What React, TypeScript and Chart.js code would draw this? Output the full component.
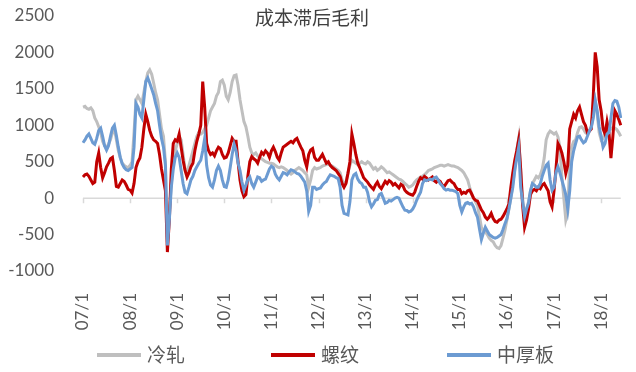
import React, { useEffect, useRef } from "react";
import { Chart, registerables } from "chart.js";

Chart.register(...registerables);

const title = "成本滞后毛利";
const seriesNames = ["冷轧", "螺纹", "中厚板"];
const seriesColors = ["#bfbfbf", "#c00000", "#6c9bd2"];
const yearLabels = ["07/1", "08/1", "09/1", "10/1", "11/1", "12/1", "13/1", "14/1", "15/1", "16/1", "17/1", "18/1"];
const pointsPerYear = 24;

// 冷轧 (semi-monthly, 2007/1 .. 2018/6)
const coldRolled = [
  1250, 1260, 1230, 1220, 1240, 1200, 1100, 1050, 980, 900, 780, 720, 700, 740, 800, 900, 950, 800, 650, 550, 480, 450, 430, 420,
  450, 500, 900, 1350, 1400, 1350, 1300, 1450, 1600, 1720, 1760, 1700, 1580, 1450, 1350, 1150, 950, 850, 500, -600, -200, 200, 500, 650,
  750, 850, 800, 600, 400, 350, 450, 550, 650, 750, 850, 900, 880, 900, 950, 1000, 1100, 1200, 1250, 1300, 1400, 1450, 1600, 1620,
  1550, 1400, 1350, 1450, 1600, 1680, 1690, 1550, 1350, 1200, 1050, 980, 850, 700, 620, 600, 620, 580, 560, 540, 520, 500, 490, 480,
  480, 470, 450, 430, 420, 430, 420, 400, 380, 350, 330, 350, 380, 400, 420, 400, 380, 350, 320, 150, 250, 380, 420, 400,
  410, 420, 440, 450, 460, 470, 450, 440, 420, 400, 380, 350, 250, 200, 220, 350, 450, 520, 500, 480, 460, 480, 500, 480,
  470, 500, 480, 440, 400, 420, 380, 400, 430, 410, 380, 350, 360, 340, 320, 300, 280, 260, 250, 230, 200, 180, 150, 160,
  180, 220, 250, 270, 290, 300, 320, 350, 380, 390, 400, 420, 430, 440, 450, 450, 440, 450, 460, 450, 440, 440, 430, 420,
  400, 380, 350, 300, 250, 150, 60, 0, -50, -100, -250, -400, -450, -460, -500, -550, -580, -600, -650, -680, -690, -650, -550, -440,
  -300, -150, 0, 200, 400, 650, 820, 400, 0, -250, -150, -50, 100, 200, 250, 300, 280, 320, 400, 550, 800, 880, 920, 900,
  880, 900, 840, 700, 300, 0, -300, -200, 550, 700, 780, 800, 900, 970, 980, 950, 900, 880, 920, 1000, 1200, 1340, 1150, 900,
  800, 820, 900, 970, 980, 950, 970, 960, 940, 900, 850,
];

// 螺纹
const rebar = [
  290, 320, 330, 300, 250, 200, 220, 500, 620, 420, 280, 350, 430, 480, 540, 560, 380, 160, 150, 200, 250, 230, 180, 120,
  110, 70, 200, 420, 500, 550, 700, 950, 1150, 1050, 930, 850, 800, 780, 750, 600, 400, 250, 100, -740, -300, 400, 750, 800,
  780, 880, 700, 520, 380, 290, 350, 430, 480, 650, 780, 880, 1000, 1600, 1250, 750, 650, 600, 620, 580, 650, 700, 680, 600,
  550, 560, 620, 720, 820, 780, 780, 500, 250, 100, 20, 50, 300, 500, 570, 540, 520, 480, 560, 630, 600, 650, 620, 560,
  650, 700, 640, 560, 520, 620, 700, 720, 740, 760, 780, 760, 800, 820, 760, 700, 650, 520, 430, 600, 660, 680, 560, 520,
  520, 560, 600, 540, 480, 500, 450, 420, 400, 380, 340, 300, 200, 150, 200, 340, 500, 880, 750, 600, 480, 420, 350, 280,
  250, 220, 180, 150, 120, 180, 220, 160, 130, 180, 230, 200, 240, 220, 180, 200, 170, 140, 190, 170, 110, 80, 60, 50,
  40, 80, 160, 230, 280, 260, 300, 280, 250, 270, 290, 240, 220, 250, 230, 180, 160, 200, 240, 250, 220, 200, 150, 120,
  120, 60, 80, 65, 100, 110, 60, 0, -30, -40, -100, -160, -200, -260, -290, -260, -210, -280, -320, -330, -300, -290, -250, -200,
  -150, -80, 150, 350, 520, 650, 800, 400, -100, -400, -300, -150, 50, 100, 120, 100, 150, 130, 180, 200, 150, 100, -50, -120,
  100, 400, 750, 700, 620, 500, 340, 450, 950, 1050, 1150, 1100, 1200, 1250, 1150, 1050, 1000, 900, 920, 950, 1400, 2000, 1800, 1350,
  1200, 950, 880, 1050, 900, 550, 850, 1200, 1150, 1080, 1000,
];

// 中厚板
const plate = [
  760, 800, 850, 880, 820, 760, 740, 820, 930, 960, 850, 720, 660, 720, 850, 960, 1000, 860, 700, 560, 470, 420, 390, 380,
  400, 420, 700, 1300, 1250, 1150, 1100, 1350, 1600, 1650, 1580, 1500, 1420, 1300, 1200, 1000, 820, 700, 450, -650, -300, 150, 400, 560,
  620, 560, 380, 200, 80, 60, 150, 250, 300, 380, 430, 480, 520, 650, 820, 450, 280, 180, 150, 250, 380, 440, 380, 250,
  160, 150, 250, 420, 600, 740, 650, 480, 380, 220, 110, 180, 260, 290, 200, 150, 220, 290, 280, 230, 250, 260, 330, 400,
  440, 420, 330, 280, 250, 300, 350, 340, 320, 360, 390, 380, 360, 340, 330, 300, 260, 220, 100, -180, -100, 150, 150, 120,
  130, 140, 180, 210, 230, 280, 320, 310, 300, 280, 270, 150, -100, -210, -220, -230, -50, 250, 320, 340, 260, 220, 200, 150,
  150, 80, -50, -120, -80, -30, -20, 50, 65, 0, -70, -60, -30, -40, -20, 0, 10, 0, -60, -120, -165, -170, -190, -180,
  -150, -100, -30, 30, 80, 200, 250, 240, 250, 260, 250, 280, 290, 250, 200, 170, 130, 110, 120, 110, 110, 100, 90, 60,
  -100, -190, -120, -70, -60, -80, -70, -120, -200, -260, -420, -570, -480, -400, -450, -500, -520, -540, -550, -540, -520, -500, -430, -350,
  -280, -150, 0, 150, 380, 550, 700, 150, -50, -250, -150, -70, 100, 200, 180, 150, 150, 200, 300, 380, 450, 480, 250, 110,
  150, 350, 430, 350, 250, 150, 50, -150, 100, 500, 650, 750, 840, 850, 800, 760, 780, 850, 920, 970, 1100, 1340, 1200, 980,
  850, 700, 750, 880, 900, 1100, 1300, 1340, 1330, 1250, 1100,
];

const categories: string[] = coldRolled.map((_, i) =>
  i % pointsPerYear === 0 ? yearLabels[i / pointsPerYear] : `${yearLabels[Math.floor(i / pointsPerYear)]}#${i % pointsPerYear}`
);

const NUM_FONT = "Lato";
const CJK_FONT = "'Noto Sans CJK SC'";

const decorPlugin = {
  id: "decor",
  beforeDatasetsDraw(chart: any) {
    const { ctx, chartArea, scales } = chart;
    const y0 = scales.y.getPixelForValue(0);
    ctx.save();
    ctx.strokeStyle = "#d9d9d9";
    ctx.lineWidth = 1.5;
    ctx.beginPath();
    ctx.moveTo(chartArea.left, y0);
    ctx.lineTo(chartArea.right, y0);
    for (let i = 0; i < categories.length; i += pointsPerYear) {
      const x = Math.round(scales.x.getPixelForValue(i)) + 0.5;
      ctx.moveTo(x, y0);
      ctx.lineTo(x, y0 + 5);
    }
    ctx.stroke();
    ctx.restore();
  },
  afterDraw(chart: any) {
    const { ctx } = chart;
    ctx.save();
    ctx.fillStyle = "#404040";
    ctx.font = `19px ${CJK_FONT}`;
    ctx.textAlign = "center";
    ctx.textBaseline = "middle";
    ctx.fillText(title, 312, 18);
    // legend
    const lineX = [97, 271, 447];
    const ly = 355;
    ctx.font = `19px ${CJK_FONT}`;
    ctx.textAlign = "left";
    seriesNames.forEach((name, k) => {
      ctx.strokeStyle = seriesColors[k];
      ctx.lineWidth = 4;
      ctx.beginPath();
      ctx.moveTo(lineX[k], ly);
      ctx.lineTo(lineX[k] + 44, ly);
      ctx.stroke();
      ctx.fillStyle = "#595959";
      ctx.fillText(name, lineX[k] + 50, ly);
    });
    ctx.restore();
  },
};

export default function App() {
  const ref = useRef<HTMLCanvasElement | null>(null);
  useEffect(() => {
    if (!ref.current) return;
    const data = [coldRolled, rebar, plate];
    const orders = [3, 2, 1];
    const chart = new Chart(ref.current, {
      type: "line",
      data: {
        labels: categories,
        datasets: seriesNames.map((name, k) => ({
          label: name,
          data: data[k],
          borderColor: seriesColors[k],
          backgroundColor: seriesColors[k],
          borderWidth: 3,
          pointRadius: 0,
          tension: 0,
          fill: false,
          order: orders[k],
        })),
      },
      options: {
        animation: false,
        responsive: false,
        devicePixelRatio: 1,
        layout: { padding: { top: 0, right: 13, left: 0, bottom: 0 } },
        plugins: { legend: { display: false }, title: { display: false }, tooltip: { enabled: false } },
        scales: {
          x: {
            type: "category",
            offset: false,
            grid: { display: false },
            border: { display: false },
            ticks: {
              autoSkip: false,
              maxRotation: 90,
              minRotation: 90,
              padding: 14,
              color: "#595959",
              font: { family: NUM_FONT, size: 17 },
              callback: (_v: any, i: number) => (i % pointsPerYear === 0 ? yearLabels[i / pointsPerYear] : null),
            },
            afterFit: (s: any) => {
              s.height = 101;
            },
          },
          y: {
            min: -1000,
            max: 2500,
            grid: { display: false },
            border: { display: false },
            ticks: {
              stepSize: 500,
              padding: 21,
              color: "#595959",
              font: { family: NUM_FONT, size: 17 },
              callback: (v: any) => String(v),
            },
            afterFit: (s: any) => {
              s.width = 83;
              s.paddingTop = 16;
              s.paddingBottom = 0;
            },
          },
        },
      },
      plugins: [decorPlugin],
    });
    return () => chart.destroy();
  }, []);
  return (
    <div style={{ position: "fixed", left: 0, top: 0, width: 636, height: 372, background: "#fff" }}>
      <canvas ref={ref} width={636} height={372} />
    </div>
  );
}
